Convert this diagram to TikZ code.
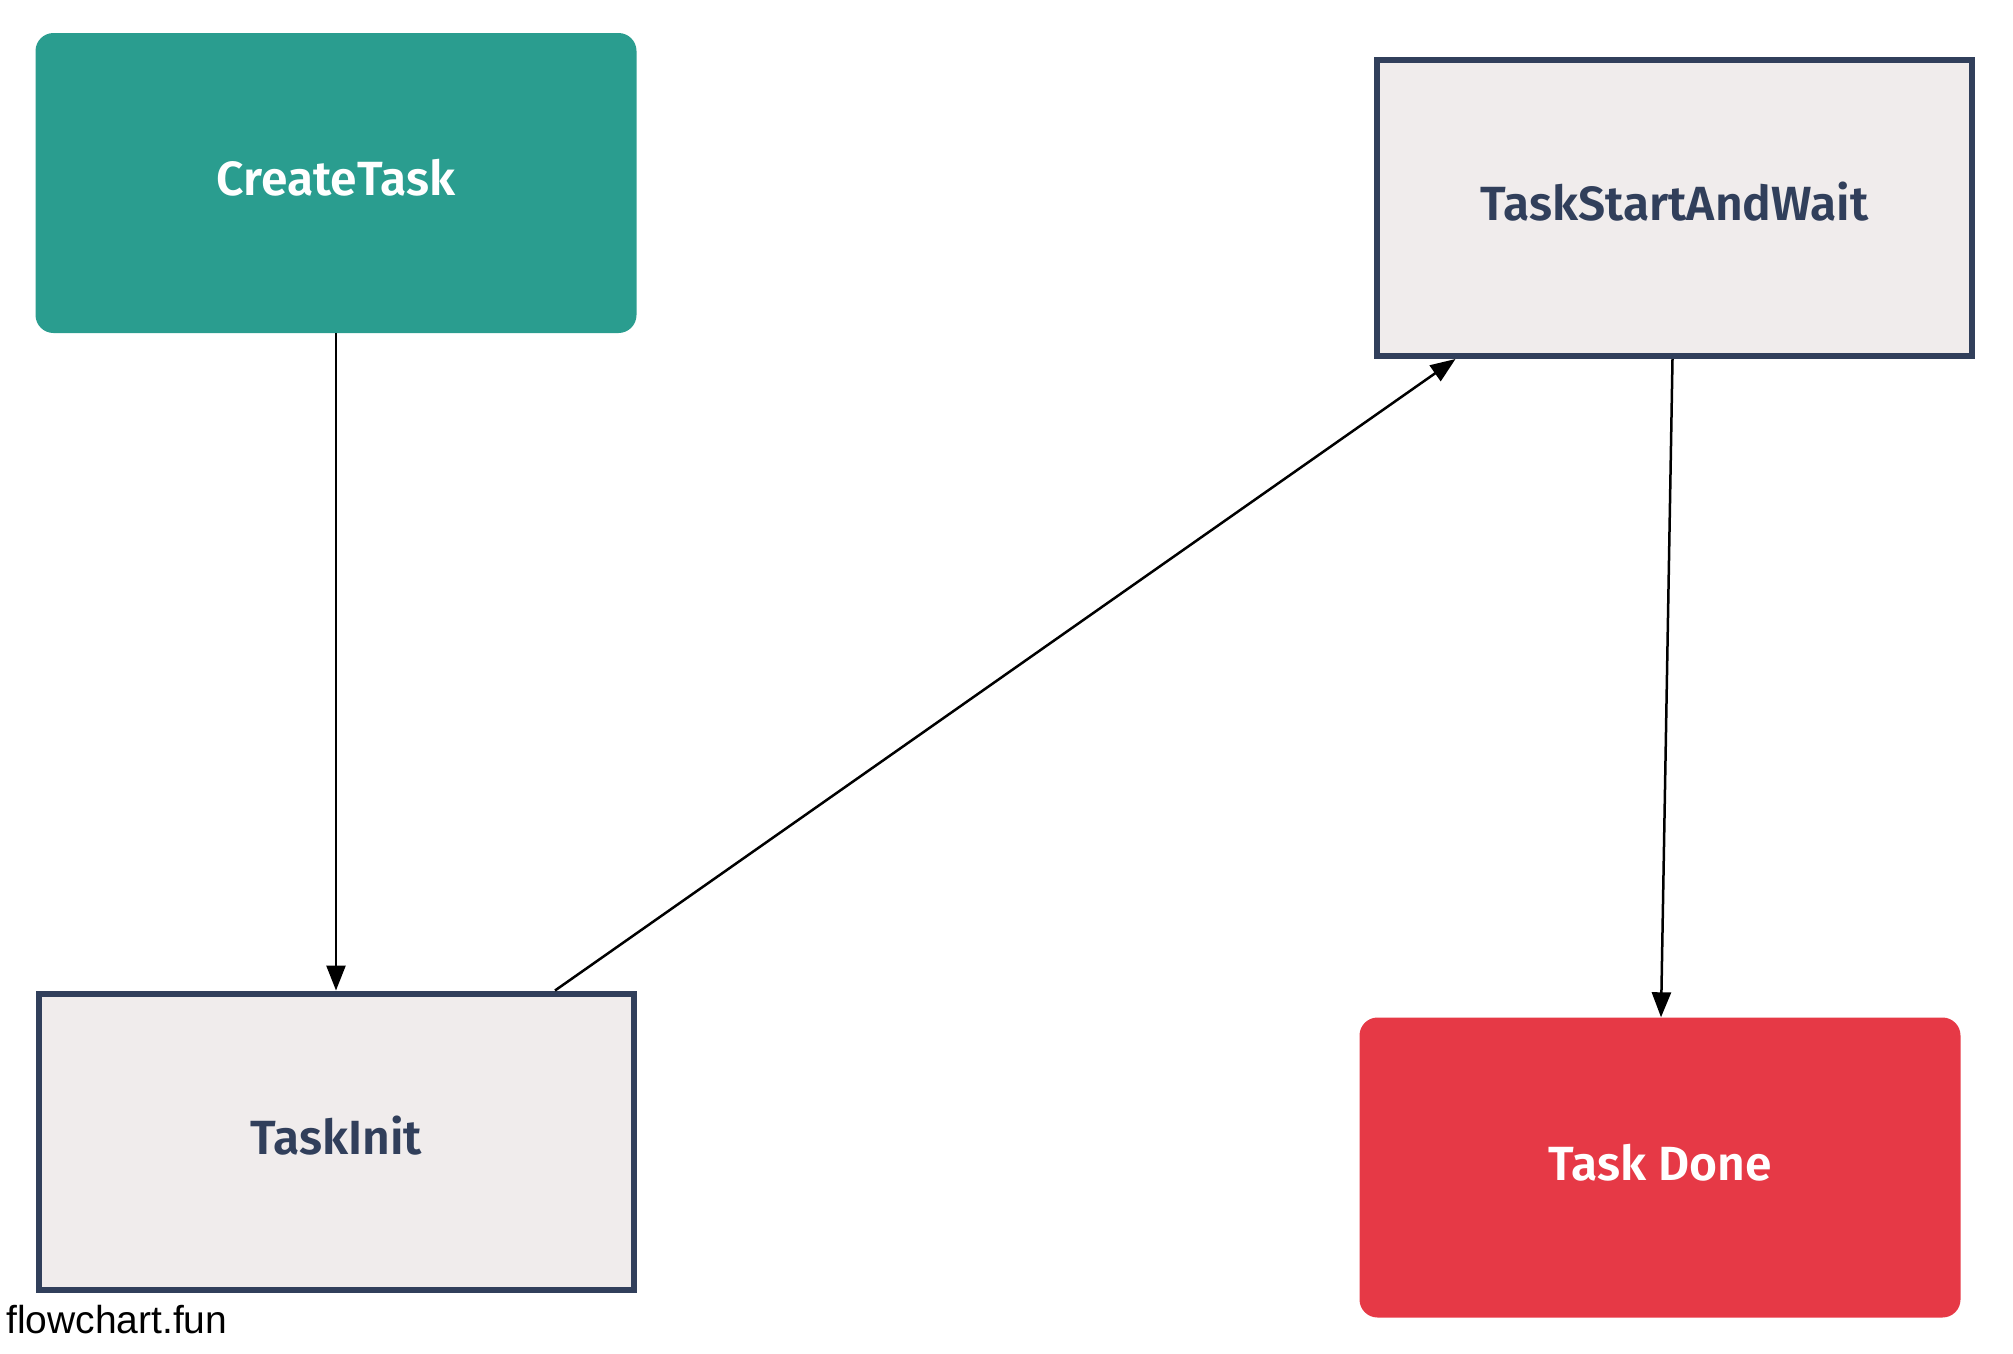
\documentclass[tikz,border=0pt]{standalone}
\usepackage{fontspec}
\setmainfont{Liberation Sans}
\newfontfamily\boxfont{Fira Sans SemiBold}
\usetikzlibrary{arrows.meta}
\definecolor{tealc}{HTML}{2A9D8F}
\definecolor{redc}{HTML}{E63946}
\definecolor{greyfill}{HTML}{F0ECEC}
\definecolor{navy}{HTML}{313F5B}
\tikzset{
  base/.style={rectangle, minimum width=595pt, minimum height=296pt, inner sep=0pt,
    text height=35pt, text depth=10pt,
    font=\boxfont\fontsize{48}{56}\selectfont},
  filledbox/.style={base, draw=none, rounded corners=18pt, text=white, minimum width=601pt, minimum height=300pt},
  plainbox/.style={base, draw=navy, line width=6pt, fill=greyfill, text=navy},
  conn/.style={line width=2.5pt, -{Triangle[length=25pt,width=19pt]}}
}
\begin{document}
\begin{tikzpicture}[x=1pt,y=-1pt]
\useasboundingbox (0,0) rectangle (2013,1353);
\node[filledbox, fill=tealc] (create) at (336,183) {CreateTask};
\node[plainbox] (wait) at (1674.5,208) {TaskStartAndWait};
\node[plainbox] (init) at (336,1141.5) {TaskInit};
\node[filledbox, fill=redc] (done) at (1660,1167.5) {Task Done};
\node[anchor=base west, inner sep=0pt, font=\fontsize{39}{45}\selectfont] (brand) at (6,1333) {flowchart.fun};
\draw[conn] (create.south) -- (init.north);
\draw[conn] ([xshift=219pt]init.north) -- ([xshift=-219pt]wait.south);
\draw[conn] ([xshift=-2pt]wait.south) -- ([xshift=1pt]done.north);
\end{tikzpicture}
\end{document}
